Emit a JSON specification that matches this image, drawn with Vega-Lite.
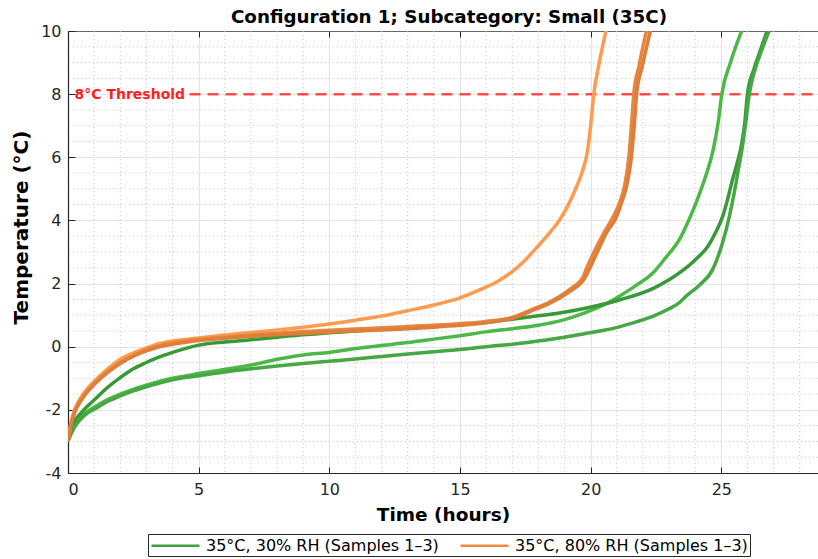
{
  "$schema": "https://vega.github.io/schema/vega-lite/v6.json",
  "width": 750,
  "height": 442,
  "autosize": {"type": "none"},
  "padding": {"left": 68, "top": 31, "right": 0, "bottom": 86},
  "background": "white",
  "title": {
    "text": "Configuration 1; Subcategory: Small (35C)",
    "font": "DejaVu Sans",
    "fontSize": 18.3,
    "fontWeight": "bold",
    "color": "#000000",
    "anchor": "middle",
    "baseline": "alphabetic",
    "offset": -18,
    "dx": 6
  },
  "config": {"view": {"stroke": null}, "font": "DejaVu Sans"},
  "datasets": {
    "minorHours": [
      {"hours": 1}, {"hours": 2}, {"hours": 3}, {"hours": 4},
      {"hours": 6}, {"hours": 7}, {"hours": 8}, {"hours": 9},
      {"hours": 11}, {"hours": 12}, {"hours": 13}, {"hours": 14},
      {"hours": 16}, {"hours": 17}, {"hours": 18}, {"hours": 19},
      {"hours": 21}, {"hours": 22}, {"hours": 23}, {"hours": 24},
      {"hours": 26}, {"hours": 27}, {"hours": 28}
    ],
    "minorTemp": [
      {"temp": -3.5}, {"temp": -3}, {"temp": -2.5},
      {"temp": -1.5}, {"temp": -1}, {"temp": -0.5},
      {"temp": 0.5}, {"temp": 1}, {"temp": 1.5},
      {"temp": 2.5}, {"temp": 3}, {"temp": 3.5},
      {"temp": 4.5}, {"temp": 5}, {"temp": 5.5},
      {"temp": 6.5}, {"temp": 7}, {"temp": 7.5},
      {"temp": 8.5}, {"temp": 9}, {"temp": 9.5}
    ],
    "threshold": [
      {"from": 4.65, "to": 28.7, "temp": 8, "label": "8°C Threshold", "labelAt": 0.25}
    ],
    "legendKeys": [
      {"group": "35°C, 30% RH (Samples 1–3)", "hours": 0, "temp": -3},
      {"group": "35°C, 80% RH (Samples 1–3)", "hours": 0, "temp": -3}
    ],
    "curves": [
      {"sample": "30-1", "hours": 0, "temp": -3}, {"sample": "30-1", "hours": 0.1, "temp": -2.75}, {"sample": "30-1", "hours": 0.25, "temp": -2.5}, {"sample": "30-1", "hours": 0.5, "temp": -2.22}, {"sample": "30-1", "hours": 0.75, "temp": -2.05}, {"sample": "30-1", "hours": 1, "temp": -1.92}, {"sample": "30-1", "hours": 1.5, "temp": -1.68}, {"sample": "30-1", "hours": 2, "temp": -1.5}, {"sample": "30-1", "hours": 2.5, "temp": -1.35}, {"sample": "30-1", "hours": 3, "temp": -1.22}, {"sample": "30-1", "hours": 3.5, "temp": -1.1}, {"sample": "30-1", "hours": 4, "temp": -1.0}, {"sample": "30-1", "hours": 5, "temp": -0.85}, {"sample": "30-1", "hours": 6, "temp": -0.72}, {"sample": "30-1", "hours": 7, "temp": -0.58}, {"sample": "30-1", "hours": 8, "temp": -0.4}, {"sample": "30-1", "hours": 9, "temp": -0.26}, {"sample": "30-1", "hours": 10, "temp": -0.18}, {"sample": "30-1", "hours": 11, "temp": -0.06}, {"sample": "30-1", "hours": 12, "temp": 0.04}, {"sample": "30-1", "hours": 13, "temp": 0.13}, {"sample": "30-1", "hours": 14, "temp": 0.24}, {"sample": "30-1", "hours": 15, "temp": 0.35}, {"sample": "30-1", "hours": 16, "temp": 0.47}, {"sample": "30-1", "hours": 17, "temp": 0.57}, {"sample": "30-1", "hours": 18, "temp": 0.68}, {"sample": "30-1", "hours": 19, "temp": 0.86}, {"sample": "30-1", "hours": 19.8, "temp": 1.08}, {"sample": "30-1", "hours": 20.5, "temp": 1.32}, {"sample": "30-1", "hours": 21.1, "temp": 1.6}, {"sample": "30-1", "hours": 21.7, "temp": 1.92}, {"sample": "30-1", "hours": 22.4, "temp": 2.35}, {"sample": "30-1", "hours": 22.9, "temp": 2.85}, {"sample": "30-1", "hours": 23.4, "temp": 3.4}, {"sample": "30-1", "hours": 23.75, "temp": 4.0}, {"sample": "30-1", "hours": 24.1, "temp": 4.7}, {"sample": "30-1", "hours": 24.4, "temp": 5.4}, {"sample": "30-1", "hours": 24.68, "temp": 6.2}, {"sample": "30-1", "hours": 24.88, "temp": 7.1}, {"sample": "30-1", "hours": 25.02, "temp": 8.0}, {"sample": "30-1", "hours": 25.35, "temp": 9.0}, {"sample": "30-1", "hours": 25.8, "temp": 10.05},

      {"sample": "30-2", "hours": 0, "temp": -3}, {"sample": "30-2", "hours": 0.1, "temp": -2.6}, {"sample": "30-2", "hours": 0.25, "temp": -2.35}, {"sample": "30-2", "hours": 0.5, "temp": -2.1}, {"sample": "30-2", "hours": 0.75, "temp": -1.88}, {"sample": "30-2", "hours": 1, "temp": -1.69}, {"sample": "30-2", "hours": 1.5, "temp": -1.3}, {"sample": "30-2", "hours": 2, "temp": -0.98}, {"sample": "30-2", "hours": 2.5, "temp": -0.7}, {"sample": "30-2", "hours": 3, "temp": -0.5}, {"sample": "30-2", "hours": 3.5, "temp": -0.32}, {"sample": "30-2", "hours": 4, "temp": -0.18}, {"sample": "30-2", "hours": 5, "temp": 0.05}, {"sample": "30-2", "hours": 6, "temp": 0.15}, {"sample": "30-2", "hours": 7, "temp": 0.22}, {"sample": "30-2", "hours": 8, "temp": 0.3}, {"sample": "30-2", "hours": 9, "temp": 0.38}, {"sample": "30-2", "hours": 10, "temp": 0.44}, {"sample": "30-2", "hours": 11, "temp": 0.5}, {"sample": "30-2", "hours": 12, "temp": 0.55}, {"sample": "30-2", "hours": 13, "temp": 0.6}, {"sample": "30-2", "hours": 14, "temp": 0.65}, {"sample": "30-2", "hours": 15, "temp": 0.7}, {"sample": "30-2", "hours": 16, "temp": 0.77}, {"sample": "30-2", "hours": 17, "temp": 0.87}, {"sample": "30-2", "hours": 18, "temp": 0.98}, {"sample": "30-2", "hours": 18.8, "temp": 1.07}, {"sample": "30-2", "hours": 19.8, "temp": 1.22}, {"sample": "30-2", "hours": 21.1, "temp": 1.48}, {"sample": "30-2", "hours": 22.4, "temp": 1.85}, {"sample": "30-2", "hours": 23.0, "temp": 2.12}, {"sample": "30-2", "hours": 23.5, "temp": 2.4}, {"sample": "30-2", "hours": 24.0, "temp": 2.75}, {"sample": "30-2", "hours": 24.5, "temp": 3.2}, {"sample": "30-2", "hours": 24.8, "temp": 3.65}, {"sample": "30-2", "hours": 25.05, "temp": 4.12}, {"sample": "30-2", "hours": 25.25, "temp": 4.7}, {"sample": "30-2", "hours": 25.43, "temp": 5.3}, {"sample": "30-2", "hours": 25.6, "temp": 5.8}, {"sample": "30-2", "hours": 25.75, "temp": 6.3}, {"sample": "30-2", "hours": 25.9, "temp": 7.1}, {"sample": "30-2", "hours": 26.0, "temp": 8.0}, {"sample": "30-2", "hours": 26.25, "temp": 8.8}, {"sample": "30-2", "hours": 26.5, "temp": 9.4}, {"sample": "30-2", "hours": 26.77, "temp": 10.05},

      {"sample": "30-3", "hours": 0, "temp": -3}, {"sample": "30-3", "hours": 0.1, "temp": -2.8}, {"sample": "30-3", "hours": 0.25, "temp": -2.55}, {"sample": "30-3", "hours": 0.5, "temp": -2.28}, {"sample": "30-3", "hours": 0.75, "temp": -2.1}, {"sample": "30-3", "hours": 1, "temp": -1.98}, {"sample": "30-3", "hours": 1.5, "temp": -1.74}, {"sample": "30-3", "hours": 2, "temp": -1.56}, {"sample": "30-3", "hours": 2.5, "temp": -1.4}, {"sample": "30-3", "hours": 3, "temp": -1.27}, {"sample": "30-3", "hours": 3.5, "temp": -1.15}, {"sample": "30-3", "hours": 4, "temp": -1.05}, {"sample": "30-3", "hours": 5, "temp": -0.92}, {"sample": "30-3", "hours": 6, "temp": -0.8}, {"sample": "30-3", "hours": 7, "temp": -0.7}, {"sample": "30-3", "hours": 8, "temp": -0.61}, {"sample": "30-3", "hours": 9, "temp": -0.53}, {"sample": "30-3", "hours": 10, "temp": -0.46}, {"sample": "30-3", "hours": 11, "temp": -0.39}, {"sample": "30-3", "hours": 12, "temp": -0.31}, {"sample": "30-3", "hours": 13, "temp": -0.23}, {"sample": "30-3", "hours": 14, "temp": -0.16}, {"sample": "30-3", "hours": 15, "temp": -0.09}, {"sample": "30-3", "hours": 16, "temp": 0.0}, {"sample": "30-3", "hours": 17, "temp": 0.08}, {"sample": "30-3", "hours": 18, "temp": 0.18}, {"sample": "30-3", "hours": 19, "temp": 0.3}, {"sample": "30-3", "hours": 19.8, "temp": 0.42}, {"sample": "30-3", "hours": 20.5, "temp": 0.52}, {"sample": "30-3", "hours": 21.1, "temp": 0.63}, {"sample": "30-3", "hours": 21.8, "temp": 0.8}, {"sample": "30-3", "hours": 22.4, "temp": 0.97}, {"sample": "30-3", "hours": 23, "temp": 1.2}, {"sample": "30-3", "hours": 23.4, "temp": 1.4}, {"sample": "30-3", "hours": 23.65, "temp": 1.6}, {"sample": "30-3", "hours": 24.16, "temp": 1.95}, {"sample": "30-3", "hours": 24.67, "temp": 2.45}, {"sample": "30-3", "hours": 25.05, "temp": 3.3}, {"sample": "30-3", "hours": 25.3, "temp": 4.1}, {"sample": "30-3", "hours": 25.5, "temp": 4.9}, {"sample": "30-3", "hours": 25.65, "temp": 5.6}, {"sample": "30-3", "hours": 25.8, "temp": 6.3}, {"sample": "30-3", "hours": 25.95, "temp": 7.2}, {"sample": "30-3", "hours": 26.07, "temp": 8.0}, {"sample": "30-3", "hours": 26.3, "temp": 8.8}, {"sample": "30-3", "hours": 26.55, "temp": 9.4}, {"sample": "30-3", "hours": 26.85, "temp": 10.05},

      {"sample": "80-1", "hours": 0, "temp": -3}, {"sample": "80-1", "hours": 0.1, "temp": -2.45}, {"sample": "80-1", "hours": 0.25, "temp": -2.0}, {"sample": "80-1", "hours": 0.5, "temp": -1.6}, {"sample": "80-1", "hours": 0.75, "temp": -1.32}, {"sample": "80-1", "hours": 1, "temp": -1.1}, {"sample": "80-1", "hours": 1.5, "temp": -0.72}, {"sample": "80-1", "hours": 2, "temp": -0.4}, {"sample": "80-1", "hours": 2.5, "temp": -0.2}, {"sample": "80-1", "hours": 3, "temp": -0.04}, {"sample": "80-1", "hours": 3.5, "temp": 0.1}, {"sample": "80-1", "hours": 4, "temp": 0.18}, {"sample": "80-1", "hours": 5, "temp": 0.28}, {"sample": "80-1", "hours": 6, "temp": 0.37}, {"sample": "80-1", "hours": 7, "temp": 0.45}, {"sample": "80-1", "hours": 8, "temp": 0.53}, {"sample": "80-1", "hours": 9, "temp": 0.62}, {"sample": "80-1", "hours": 10, "temp": 0.72}, {"sample": "80-1", "hours": 11, "temp": 0.84}, {"sample": "80-1", "hours": 12, "temp": 0.97}, {"sample": "80-1", "hours": 13, "temp": 1.14}, {"sample": "80-1", "hours": 14, "temp": 1.32}, {"sample": "80-1", "hours": 15, "temp": 1.55}, {"sample": "80-1", "hours": 15.75, "temp": 1.8}, {"sample": "80-1", "hours": 16.5, "temp": 2.1}, {"sample": "80-1", "hours": 17, "temp": 2.38}, {"sample": "80-1", "hours": 17.5, "temp": 2.75}, {"sample": "80-1", "hours": 18, "temp": 3.2}, {"sample": "80-1", "hours": 18.42, "temp": 3.6}, {"sample": "80-1", "hours": 18.8, "temp": 4.0}, {"sample": "80-1", "hours": 19.15, "temp": 4.5}, {"sample": "80-1", "hours": 19.45, "temp": 5.05}, {"sample": "80-1", "hours": 19.7, "temp": 5.6}, {"sample": "80-1", "hours": 19.88, "temp": 6.2}, {"sample": "80-1", "hours": 20.0, "temp": 7.0}, {"sample": "80-1", "hours": 20.12, "temp": 8.0}, {"sample": "80-1", "hours": 20.33, "temp": 9.0}, {"sample": "80-1", "hours": 20.6, "temp": 10.05},

      {"sample": "80-2", "hours": 0, "temp": -3}, {"sample": "80-2", "hours": 0.1, "temp": -2.5}, {"sample": "80-2", "hours": 0.25, "temp": -2.08}, {"sample": "80-2", "hours": 0.5, "temp": -1.68}, {"sample": "80-2", "hours": 0.75, "temp": -1.4}, {"sample": "80-2", "hours": 1, "temp": -1.17}, {"sample": "80-2", "hours": 1.5, "temp": -0.8}, {"sample": "80-2", "hours": 2, "temp": -0.5}, {"sample": "80-2", "hours": 2.5, "temp": -0.28}, {"sample": "80-2", "hours": 3, "temp": -0.1}, {"sample": "80-2", "hours": 3.5, "temp": 0.03}, {"sample": "80-2", "hours": 4, "temp": 0.12}, {"sample": "80-2", "hours": 5, "temp": 0.23}, {"sample": "80-2", "hours": 6, "temp": 0.3}, {"sample": "80-2", "hours": 7, "temp": 0.37}, {"sample": "80-2", "hours": 8, "temp": 0.43}, {"sample": "80-2", "hours": 9, "temp": 0.48}, {"sample": "80-2", "hours": 10, "temp": 0.52}, {"sample": "80-2", "hours": 11, "temp": 0.56}, {"sample": "80-2", "hours": 12, "temp": 0.6}, {"sample": "80-2", "hours": 13, "temp": 0.64}, {"sample": "80-2", "hours": 14, "temp": 0.68}, {"sample": "80-2", "hours": 15, "temp": 0.73}, {"sample": "80-2", "hours": 16, "temp": 0.8}, {"sample": "80-2", "hours": 17, "temp": 0.93}, {"sample": "80-2", "hours": 17.7, "temp": 1.16}, {"sample": "80-2", "hours": 18.5, "temp": 1.45}, {"sample": "80-2", "hours": 19.2, "temp": 1.82}, {"sample": "80-2", "hours": 19.7, "temp": 2.2}, {"sample": "80-2", "hours": 19.85, "temp": 2.5}, {"sample": "80-2", "hours": 20.1, "temp": 2.95}, {"sample": "80-2", "hours": 20.5, "temp": 3.6}, {"sample": "80-2", "hours": 20.85, "temp": 4.1}, {"sample": "80-2", "hours": 21.1, "temp": 4.55}, {"sample": "80-2", "hours": 21.3, "temp": 5.1}, {"sample": "80-2", "hours": 21.46, "temp": 6.0}, {"sample": "80-2", "hours": 21.56, "temp": 7.0}, {"sample": "80-2", "hours": 21.65, "temp": 8.0}, {"sample": "80-2", "hours": 21.85, "temp": 8.9}, {"sample": "80-2", "hours": 22.15, "temp": 10.05},

      {"sample": "80-3", "hours": 0, "temp": -3}, {"sample": "80-3", "hours": 0.1, "temp": -2.52}, {"sample": "80-3", "hours": 0.25, "temp": -2.1}, {"sample": "80-3", "hours": 0.5, "temp": -1.7}, {"sample": "80-3", "hours": 0.75, "temp": -1.42}, {"sample": "80-3", "hours": 1, "temp": -1.2}, {"sample": "80-3", "hours": 1.5, "temp": -0.83}, {"sample": "80-3", "hours": 2, "temp": -0.53}, {"sample": "80-3", "hours": 2.5, "temp": -0.3}, {"sample": "80-3", "hours": 3, "temp": -0.13}, {"sample": "80-3", "hours": 3.5, "temp": 0.0}, {"sample": "80-3", "hours": 4, "temp": 0.08}, {"sample": "80-3", "hours": 5, "temp": 0.2}, {"sample": "80-3", "hours": 6, "temp": 0.27}, {"sample": "80-3", "hours": 7, "temp": 0.33}, {"sample": "80-3", "hours": 8, "temp": 0.38}, {"sample": "80-3", "hours": 9, "temp": 0.42}, {"sample": "80-3", "hours": 10, "temp": 0.46}, {"sample": "80-3", "hours": 11, "temp": 0.5}, {"sample": "80-3", "hours": 12, "temp": 0.53}, {"sample": "80-3", "hours": 13, "temp": 0.57}, {"sample": "80-3", "hours": 14, "temp": 0.62}, {"sample": "80-3", "hours": 15, "temp": 0.68}, {"sample": "80-3", "hours": 16, "temp": 0.76}, {"sample": "80-3", "hours": 17, "temp": 0.9}, {"sample": "80-3", "hours": 17.7, "temp": 1.12}, {"sample": "80-3", "hours": 18.5, "temp": 1.4}, {"sample": "80-3", "hours": 19.2, "temp": 1.75}, {"sample": "80-3", "hours": 19.7, "temp": 2.08}, {"sample": "80-3", "hours": 20.2, "temp": 2.9}, {"sample": "80-3", "hours": 20.6, "temp": 3.6}, {"sample": "80-3", "hours": 20.98, "temp": 4.1}, {"sample": "80-3", "hours": 21.2, "temp": 4.6}, {"sample": "80-3", "hours": 21.38, "temp": 5.1}, {"sample": "80-3", "hours": 21.56, "temp": 6.0}, {"sample": "80-3", "hours": 21.67, "temp": 7.0}, {"sample": "80-3", "hours": 21.76, "temp": 8.0}, {"sample": "80-3", "hours": 21.98, "temp": 8.9}, {"sample": "80-3", "hours": 22.3, "temp": 10.05}
    ]
  },
  "resolve": {
    "scale": {"color": "independent"},
    "axis": {"x": "independent", "y": "independent"},
    "legend": {"color": "independent"}
  },
  "layer": [
    {
      "data": {"name": "minorHours"},
      "mark": {"type": "rule", "stroke": "#c8c8c8", "strokeWidth": 1, "strokeDash": [1.2, 2.8]},
      "encoding": {
        "x": {"field": "hours", "type": "quantitative", "axis": null}
      }
    },
    {
      "data": {"name": "minorTemp"},
      "mark": {"type": "rule", "stroke": "#c8c8c8", "strokeWidth": 1, "strokeDash": [1.2, 2.8]},
      "encoding": {
        "y": {"field": "temp", "type": "quantitative", "axis": null}
      }
    },
    {
      "data": {"name": "threshold"},
      "mark": {"type": "rule", "stroke": "#ff3030", "strokeOpacity": 0.85, "strokeWidth": 2.5, "strokeDash": [11, 7]},
      "encoding": {
        "x": {
          "field": "from",
          "type": "quantitative",
          "axis": {
            "orient": "top",
            "values": [0, 5, 10, 15, 20, 25],
            "labels": false,
            "title": null,
            "grid": false,
            "tickSize": -6,
            "tickColor": "#262626",
            "tickWidth": 1,
            "domainColor": "#666666",
            "domainWidth": 1
          }
        },
        "x2": {"field": "to"},
        "y": {"field": "temp", "type": "quantitative", "axis": null}
      }
    },
    {
      "data": {"name": "threshold"},
      "mark": {"type": "text", "align": "left", "baseline": "middle", "font": "DejaVu Sans", "fontSize": 14, "fontWeight": "bold", "color": "#ff1f1f", "dy": 1},
      "encoding": {
        "x": {"field": "labelAt", "type": "quantitative", "axis": null},
        "y": {"field": "temp", "type": "quantitative", "axis": null},
        "text": {"field": "label"}
      }
    },
    {
      "data": {"name": "curves"},
      "mark": {"type": "line", "strokeWidth": 3.5, "clip": true, "strokeJoin": "round", "interpolate": "monotone"},
      "encoding": {
        "x": {
          "field": "hours",
          "type": "quantitative",
          "scale": {"domain": [0, 28.7], "nice": false, "zero": false},
          "axis": {
            "orient": "bottom",
            "title": "Time (hours)",
            "values": [0, 5, 10, 15, 20, 25],
            "format": "d",
            "grid": true,
            "gridColor": "#e4e4e4",
            "gridWidth": 1.2,
            "tickSize": -6,
            "tickColor": "#262626",
            "domainColor": "#262626",
            "domainWidth": 1.2,
            "labelFont": "DejaVu Sans",
            "labelFontSize": 16,
            "labelColor": "#262626",
            "labelPadding": 14,
            "titleFont": "DejaVu Sans",
            "titleFontSize": 18.5,
            "titleFontWeight": "bold",
            "titleColor": "#000000",
            "titlePadding": 8
          }
        },
        "y": {
          "field": "temp",
          "type": "quantitative",
          "scale": {"domain": [-4, 10], "nice": false, "zero": false},
          "axis": {
            "orient": "left",
            "title": "Temperature (°C)",
            "values": [-4, -2, 0, 2, 4, 6, 8, 10],
            "labelExpr": "toString(datum.value)",
            "grid": true,
            "gridColor": "#e4e4e4",
            "gridWidth": 1.2,
            "tickSize": -7,
            "tickColor": "#262626",
            "domainColor": "#262626",
            "domainWidth": 1.2,
            "labelFont": "DejaVu Sans",
            "labelFontSize": 16,
            "labelColor": "#262626",
            "labelPadding": 14,
            "titleFont": "DejaVu Sans",
            "titleFontSize": 20,
            "titleFontWeight": "bold",
            "titleColor": "#000000",
            "titleAngle": 270,
            "titleAlign": "center",
            "titleBaseline": "middle",
            "titleX": -47,
            "titleY": 196
          }
        },
        "color": {
          "field": "sample",
          "type": "nominal",
          "scale": {
            "domain": ["30-1", "30-2", "30-3", "80-1", "80-2", "80-3"],
            "range": ["#4cb848", "#379a37", "#45a845", "#ff9b4e", "#e8863f", "#dd7e3a"]
          },
          "legend": null
        }
      }
    },
    {
      "data": {"name": "legendKeys"},
      "mark": {"type": "line", "strokeWidth": 2.5},
      "encoding": {
        "x": {"field": "hours", "type": "quantitative", "axis": null},
        "y": {"field": "temp", "type": "quantitative", "axis": null},
        "color": {
          "field": "group",
          "type": "nominal",
          "scale": {
            "domain": ["35°C, 30% RH (Samples 1–3)", "35°C, 80% RH (Samples 1–3)"],
            "range": ["#3f9f3f", "#f08a40"]
          },
          "legend": {
            "orient": "none",
            "legendX": 80,
            "legendY": 503,
            "direction": "horizontal",
            "title": null,
            "symbolType": "M-1,0H5",
            "symbolSize": 256,
            "symbolStrokeWidth": 2.5,
            "symbolOpacity": 1,
            "labelFont": "DejaVu Sans",
            "labelFontSize": 16,
            "labelColor": "#000000",
            "labelLimit": 400,
            "labelOffset": 37,
            "columnPadding": 16,
            "padding": 2,
            "strokeColor": "#262626",
            "fillColor": "#ffffff"
          }
        }
      }
    }
  ]
}
